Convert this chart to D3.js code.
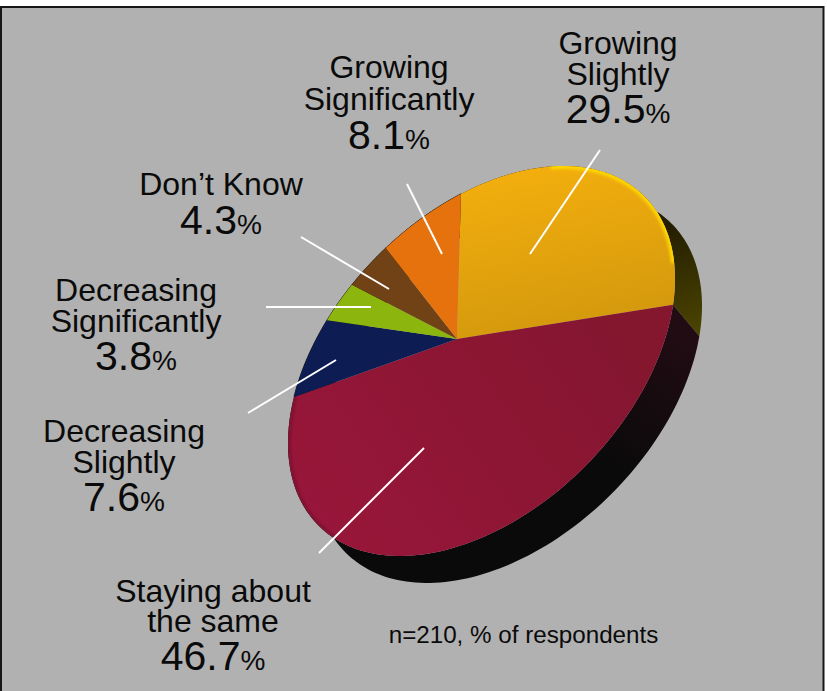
<!DOCTYPE html>
<html>
<head>
<meta charset="utf-8">
<script src="https://cdn.jsdelivr.net/npm/d3@7"></script>
<style>
  html, body { margin: 0; padding: 0; background: #fff; }
  svg { display: block; }
  text { font-family: "Liberation Sans", Arial, sans-serif; fill: #0a0a0a; }
</style>
</head>
<body>
<svg id="chart" width="827" height="691"></svg>
<script>
// Respondent shares, clockwise from the top of the pie
const categories = [
  ["Growing", "Slightly"],
  ["Staying about", "the same"],
  ["Decreasing", "Slightly"],
  ["Decreasing", "Significantly"],
  ["Don\u2019t Know"],
  ["Growing", "Significantly"]
];
const shares = [29.5, 46.7, 7.6, 3.8, 4.3, 8.1];
const sliceTop = ["#f2ae0e", "#84122f", "#0e1f52", "#8cb50c", "#6f4214", "#e6720a"];
const sliceBottom = ["#d4990e", "#98133a", "#0e1f52", "#8cb50c", "#6f4214", "#e6720a"];
const footnote = "n=210, % of respondents";

// Label placement: centre x, baseline y of each line, then the leader line
const labelX = [618, 213, 124, 136, 221, 389];
const labelBaselines = [[54, 85, 123], [602, 632, 670], [442, 473, 511], [301, 332, 370], [195, 234], [78, 110, 149]];
const leaderLines = [
  [[600, 150], [530, 254]],
  [[319, 553], [424, 448]],
  [[248, 413], [336, 360]],
  [[266, 307], [371, 307]],
  [[301, 237], [389, 289]],
  [[407, 184], [442, 254]]
];

// The tilted disc: an ellipse on the page, with the pie centre seen in perspective
const ellipse = { cx: 481.5, cy: 361, l11: 193.5, l21: -82.2, l22: 176.8 };
const apex = [457, 339];
const depth = [27, 27];
const sideTwist = 0.02;

// Disc centre expressed in the ellipse's unit coordinates
const pu = (apex[0] - ellipse.cx) / ellipse.l11;
const pv = (apex[1] - ellipse.cy - ellipse.l21 * pu) / ellipse.l22;
const shrink = 1 + Math.sqrt(1 - pu * pu - pv * pv);
const qx = pu / shrink, qy = pv / shrink;

// Perspective keeps the rim on the ellipse but shifts the angles around it
function rim(angle) {
  const zx = Math.sin(angle), zy = -Math.cos(angle);
  const nx = zx + qx, ny = zy + qy;
  const dx = 1 + qx * zx + qy * zy, dy = qx * zy - qy * zx;
  const m = dx * dx + dy * dy;
  const wx = (nx * dx + ny * dy) / m, wy = (ny * dx - nx * dy) / m;
  return [ellipse.cx + ellipse.l11 * wx, ellipse.cy + ellipse.l21 * wx + ellipse.l22 * wy];
}
const backRim = a => {
  const p = rim(a + sideTwist);
  return [p[0] + depth[0], p[1] + depth[1]];
};
const arcAngles = (a0, a1) => d3.range(0, 121).map(i => a0 + (a1 - a0) * i / 120);

const pie = d3.pie().sort(null).value(d => d).startAngle(0.013).endAngle(0.013 + 2 * Math.PI);
const arcs = pie(shares);
const line = d3.line();

const svg = d3.select("#chart");
const defs = svg.append("defs");

defs.append("filter").attr("id", "soft").attr("x", "-5%").attr("y", "-5%").attr("width", "110%").attr("height", "110%")
  .append("feGaussianBlur").attr("stdDeviation", 0.7);
defs.append("filter").attr("id", "glow").attr("x", "-10%").attr("y", "-10%").attr("width", "120%").attr("height", "120%")
  .append("feGaussianBlur").attr("stdDeviation", 1.6);

function gradient(id, x1, y1, x2, y2, c1, c2) {
  const g = defs.append("linearGradient").attr("id", id).attr("gradientUnits", "userSpaceOnUse")
    .attr("x1", x1).attr("y1", y1).attr("x2", x2).attr("y2", y2);
  g.append("stop").attr("offset", 0).attr("stop-color", c1);
  g.append("stop").attr("offset", 1).attr("stop-color", c2);
}
sliceTop.forEach((c, i) => {
  if (i === 0) gradient("top0", 530, 170, 560, 330, c, sliceBottom[i]);
  else if (i === 1) gradient("top1", 620, 330, 330, 540, c, sliceBottom[i]);
  else gradient("top" + i, 0, 0, 0, 691, c, sliceBottom[i]);
});
gradient("side0", 668, 225, 702, 335, "#241e02", "#4c4500");
gradient("side1", 695, 335, 610, 470, "#220c14", "#0a0a0a");

// Panel
svg.append("rect").attr("x", 1).attr("y", 7).attr("width", 822.5).attr("height", 700)
  .attr("fill", "#b1b1b1").attr("stroke", "#161616").attr("stroke-width", 2);

// Disc wall, drawn behind the top face
svg.append("g").selectAll("path").data(arcs).join("path")
  .attr("d", d => {
    const angles = arcAngles(d.startAngle, d.endAngle);
    return line(angles.map(rim).concat(angles.slice().reverse().map(backRim))) + "Z";
  })
  .attr("fill", (d, i) => i === 0 ? "url(#side0)" : i === 1 ? "url(#side1)" : "#0a0a0a")
  .attr("stroke", (d, i) => i > 1 ? "#0a0a0a" : "none");

// Top face
const slicePath = d => line([apex].concat(arcAngles(d.startAngle, d.endAngle).map(rim))) + "Z";
defs.append("clipPath").attr("id", "disc").append("path")
  .attr("d", line(arcAngles(0, 2 * Math.PI).map(rim)) + "Z");

const face = svg.append("g").attr("filter", "url(#soft)");
face.selectAll("path").data(arcs).join("path")
  .attr("d", slicePath)
  .attr("fill", (d, i) => `url(#top${i})`);

// Lit and shaded edges along the rim
const edges = svg.append("g").attr("clip-path", "url(#disc)").append("g").attr("filter", "url(#glow)");
edges.append("path")
  .attr("d", line(arcAngles(arcs[0].startAngle + 0.55, arcs[0].endAngle - 0.2).map(rim)))
  .attr("fill", "none").attr("stroke", "#ffd800").attr("stroke-width", 6);
edges.append("path")
  .attr("d", line(arcAngles(arcs[1].startAngle + 1.9, arcs[1].endAngle).map(rim)))
  .attr("fill", "none").attr("stroke", "#5e0c25").attr("stroke-width", 5).attr("stroke-opacity", 0.55);

// Leader lines
svg.append("g").selectAll("path").data(leaderLines).join("path")
  .attr("d", d => line(d))
  .attr("fill", "none").attr("stroke", "#fff").attr("stroke-width", 2);

// Labels
const fmt = d3.format(".1f");
categories.forEach((lines, i) => {
  const g = svg.append("g");
  lines.forEach((t, j) => {
    g.append("text")
      .attr("x", labelX[i]).attr("y", labelBaselines[i][j])
      .attr("text-anchor", "middle").attr("font-size", 32).text(t);
  });
  const v = g.append("text")
    .attr("x", labelX[i]).attr("y", labelBaselines[i][lines.length])
    .attr("text-anchor", "middle");
  v.append("tspan").attr("font-size", 41).text(fmt(shares[i]));
  v.append("tspan").attr("font-size", 28).text("%");
});

svg.append("text")
  .attr("x", 523.5).attr("y", 643)
  .attr("text-anchor", "middle").attr("font-size", 24.2).text(footnote);
</script>
</body>
</html>
